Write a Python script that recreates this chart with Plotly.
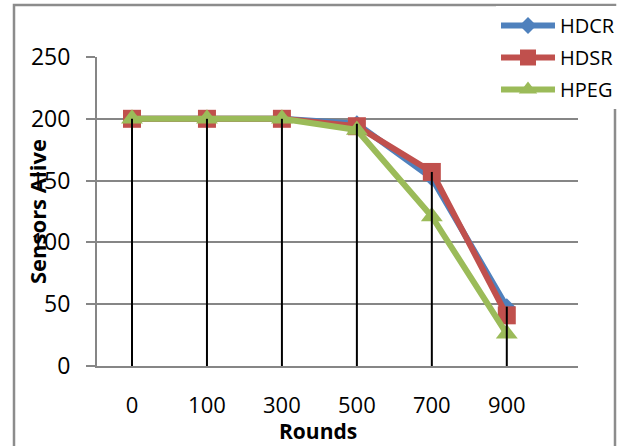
import plotly.graph_objects as go

rounds = ["0", "100", "300", "500", "700", "900"]
hdcr = [200, 200, 200, 196, 152, 48]
hdsr = [200, 200, 200, 194, 157, 41]
hpeg = [200, 200, 200, 191, 121, 26]
y_ticks = [0, 50, 100, 150, 200, 250]

W, H = 623, 446
L, R, T, B = 97, 45, 57, 80
pw, ph = W - L - R, H - T - B

def px(x):
    return (x - L) / pw

def py(y):
    return (H - B - y) / ph

idx = list(range(len(rounds)))
FONT = "Open Sans"

fig = go.Figure()
series = [
    ("HDCR", hdcr, "#4F81BD", "diamond", 13),
    ("HDSR", hdsr, "#C0504D", "square", 18),
    ("HPEG", hpeg, "#9BBB59", "triangle-up", 19),
]
for name, vals, col, sym, size in series:
    fig.add_trace(go.Scatter(
        x=idx, y=vals, name=name, mode="lines+markers", legendgroup=name,
        line=dict(color=col, width=6),
        marker=dict(symbol=sym, size=size, color=col),
    ))

# drop lines from the highest point at each category to the axis
dx, dy = [], []
for i in idx:
    top = max(hdcr[i], hdsr[i], hpeg[i])
    dx += [i, i, None]
    dy += [top, 0, None]
fig.add_trace(go.Scatter(x=dx, y=dy, mode="lines", showlegend=False,
                         line=dict(color="black", width=2), hoverinfo="skip"))

fig.update_layout(
    width=W, height=H,
    margin=dict(l=L, r=R, t=T, b=B, autoexpand=False),
    paper_bgcolor="white", plot_bgcolor="white",
    font=dict(family=FONT, size=22, color="black"),
    showlegend=True,
    legend=dict(x=px(496), y=py(6), xanchor="left", yanchor="top",
                font=dict(size=20, family=FONT), bgcolor="white",
                tracegroupgap=3, itemwidth=54),
    xaxis=dict(range=[-0.467, 5.95], tickmode="array", tickvals=idx, ticktext=rounds,
               showgrid=False, zeroline=False, showline=True, linecolor="#868686", linewidth=2,
               ticks="", ticklabelstandoff=19, tickfont=dict(size=22), automargin=False),
    yaxis=dict(range=[0, 250], tickmode="array", tickvals=y_ticks,
               showgrid=True, gridcolor="#868686", gridwidth=2, zeroline=False,
               showline=True, linecolor="#868686", linewidth=2,
               ticks="outside", ticklen=9, tickcolor="#868686", tickwidth=2,
               ticklabelstandoff=11, tickfont=dict(size=23), automargin=False),
    annotations=[
        dict(text="<b>Sensors Alive</b>", textangle=-90, xref="paper", yref="paper",
             x=px(37), y=py(212), showarrow=False, font=dict(size=22, family=FONT),
             xanchor="center", yanchor="middle"),
        dict(text="<b>Rounds</b>", xref="paper", yref="paper",
             x=px(318), y=py(431), showarrow=False, font=dict(size=21, family=FONT),
             xanchor="center", yanchor="middle"),
    ],
    shapes=[
        dict(type="rect", xref="paper", yref="paper",
             x0=px(14), x1=px(615), y0=py(470), y1=py(5),
             line=dict(color="#8c8c8c", width=2.5), fillcolor="rgba(0,0,0,0)", layer="above"),
    ],
)

fig.write_html("out.html", config={"displayModeBar": False},
               post_script="document.body.style.margin='0';document.body.style.overflow='hidden';")
